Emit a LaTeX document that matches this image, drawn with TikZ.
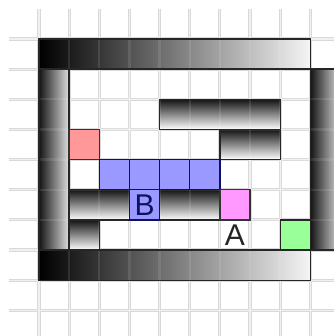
\documentclass[tikz,border=0pt]{standalone}
\usepackage{fontspec}
\setmainfont{Liberation Sans}
\definecolor{cpink}{HTML}{FF9999}
\definecolor{cblue}{HTML}{9999FF}
\definecolor{cmag}{HTML}{FF99FF}
\definecolor{cgreen}{HTML}{99FF99}
\definecolor{navy}{HTML}{101060}
\begin{document}
\begin{tikzpicture}[x=30.15pt,y=-30.15pt,
  gridline/.style={line width=3.2pt,draw=black!15},
  gridinner/.style={line width=1.1pt,draw=black!6},
  gridfaint/.style={line width=2.2pt,draw=white,opacity=0.10},
  wallh/.style={left color=black,right color=black!4},
  wallv/.style={left color=black!92,right color=black!12},
  blockcell/.style={top color=black!92,bottom color=white},
  outline/.style={draw=black!85,line width=1.3pt},
  cell/.style={line width=1.3pt},
  lbl/.style={font=\fontsize{30}{30}\selectfont,inner sep=0pt}]
\useasboundingbox (-1.2935,-1.2935) rectangle (9.784,9.851);
\fill[white] (-1.2935,-1.2935) rectangle (9.784,9.851);
% grid
\foreach \k in {0,...,9} {
  \draw[gridline] (\k,-0.995) -- (\k,9.9);
  \draw[gridline] (-0.995,\k) -- (9.9,\k);
}
\foreach \k in {0,...,9} {
  \draw[gridinner] (\k,-0.995) -- (\k,9.9);
  \draw[gridinner] (-0.995,\k) -- (9.9,\k);
}
% walls
\shade[wallh] (0,0) rectangle (9,1);
\shade[wallh] (0,7) rectangle (9,8);
\shade[wallv] (0,1) rectangle (1,7);
\shade[wallv] (9,1) rectangle (10,7);
% inner blocks (per cell)
\foreach \c/\r in {4/2,5/2,6/2,7/2,6/3,7/3,1/5,2/5,4/5,5/5,1/6} {
  \shade[blockcell] (\c,\r) rectangle ++(1,1);
}
% faint grid over walls and blocks
\foreach \k in {1,...,9} {
  \draw[gridfaint] (\k,0) -- (\k,8);
}
\foreach \k in {1,...,7} {
  \draw[gridfaint] (0,\k) -- (9,\k);
}
\foreach \k in {1,...,6} {
  \draw[gridfaint] (9,\k) -- (10,\k);
}
% outlines
\draw[outline] (0,0) rectangle (9,1);
\draw[outline] (0,7) rectangle (9,8);
\draw[outline] (0,1) rectangle (1,7);
\draw[outline] (9,1) rectangle (10,7);
\draw[outline] (4,2) rectangle (8,3);
\draw[outline] (6,3) rectangle (8,4);
\draw[outline] (1,5) rectangle (6,6);
\draw[outline] (1,6) rectangle (2,7);
% coloured cells
\draw[cell,fill=cpink,draw=black!80] (1,3) rectangle (2,4);
\foreach \c in {2,3,4,5} {
  \draw[cell,fill=cblue,draw=navy] (\c,4) rectangle ++(1,1);
}
\draw[cell,fill=cblue,draw=navy] (3,5) rectangle (4,6);
\draw[cell,fill=cmag,draw=black!80] (6,5) rectangle (7,6);
\draw[cell,fill=cgreen,draw=black!85] (8,6) rectangle (9,7);
% labels
\node[lbl,text=navy] (B) at (3.5,5.5) {B};
\node[lbl,text=black!85] (A) at (6.5,6.5) {A};
\end{tikzpicture}
\end{document}
